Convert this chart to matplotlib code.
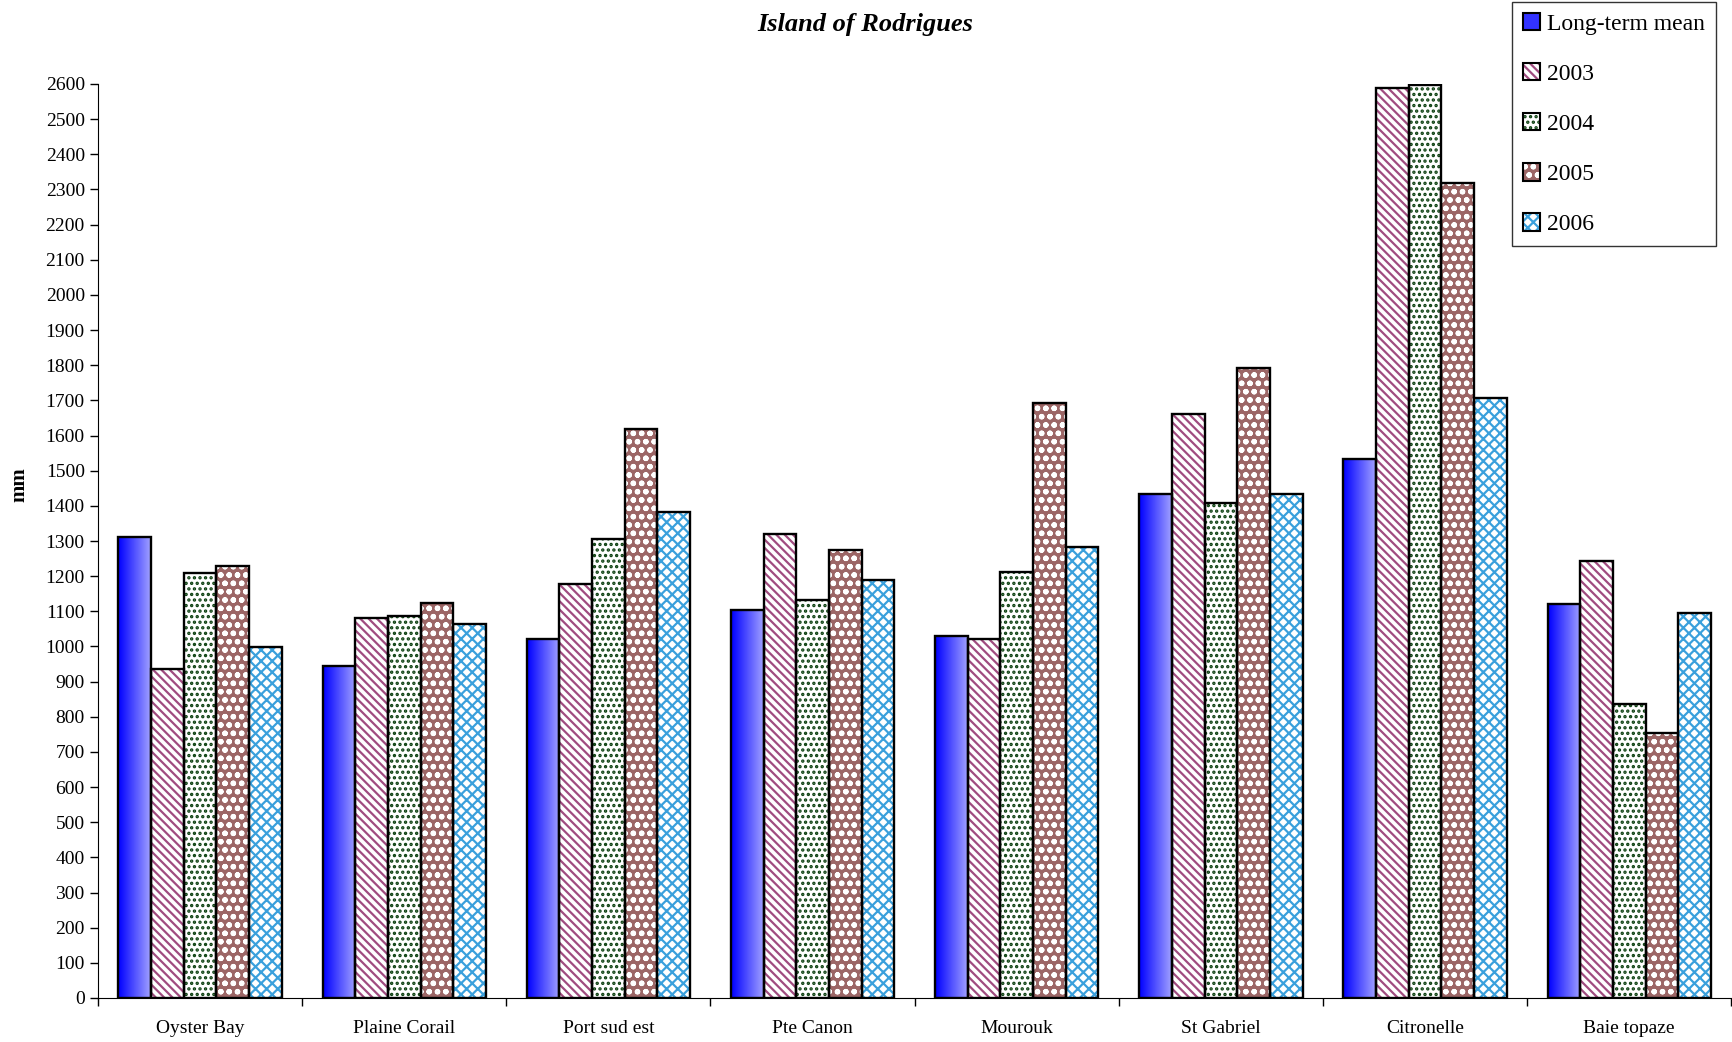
import numpy as np
import matplotlib.pyplot as plt
from matplotlib.patches import Patch
from matplotlib.colors import LinearSegmentedColormap
from matplotlib.legend_handler import HandlerTuple

plt.rcParams['font.family'] = ['Liberation Serif', 'DejaVu Serif']
plt.rcParams['hatch.linewidth'] = 1.6

# Station names and rainfall (mm)
stations = ["Oyster Bay", "Plaine Corail", "Port sud est", "Pte Canon",
            "Mourouk", "St Gabriel", "Citronelle", "Baie topaze"]
long_term = [1312, 943, 1022, 1104, 1030, 1433, 1532, 1120]
y2003 = [935, 1080, 1178, 1320, 1020, 1661, 2588, 1243]
y2004 = [1210, 1088, 1305, 1133, 1213, 1408, 2597, 837]
y2005 = [1230, 1125, 1620, 1275, 1693, 1792, 2318, 755]
y2006 = [998, 1063, 1382, 1188, 1283, 1433, 1707, 1096]
series_names = ["Long-term mean", "2003", "2004", "2005", "2006"]

fig = plt.figure(figsize=(17.33, 10.42), dpi=100)
ax = fig.add_axes([98 / 1733, 1 - 998 / 1042, 1 - 98 / 1733 - 0.001, (998 - 84) / 1042])

x = np.arange(len(stations))
w = 0.16
offsets = (np.arange(5) - 2) * w

# Long-term mean bars with a blue horizontal gradient
grad = np.linspace(0, 1, 64).reshape(1, -1)
blue_cmap = LinearSegmentedColormap.from_list("b", ["#0000ff", "#a0a0ff"])
bars = ax.bar(x + offsets[0], long_term, w, color="none", edgecolor="black", linewidth=1.7, zorder=3)
for b in bars:
    x0, y0 = b.get_x(), b.get_y()
    im = ax.imshow(grad, cmap=blue_cmap, aspect="auto",
                   extent=[x0, x0 + b.get_width(), y0, y0 + b.get_height()], zorder=2)
    im.set_clip_path(b)

# hatched series: (values, face, hatch, hatch colour)
styles = [
    (y2003, "white", "\\\\\\\\", "#a04c80"),
    (y2004, "white", "...", "#0c4010"),
    (y2005, "#9c6666", "oo", "white"),
    (y2006, "white", "xxx", "#3aa0dc"),
]
for i, (vals, face, hatch, hcol) in enumerate(styles):
    ax.bar(x + offsets[i + 1], vals, w, color=face, edgecolor=hcol, hatch=hatch, linewidth=0, zorder=2)
    ax.bar(x + offsets[i + 1], vals, w, fill=False, edgecolor="black", linewidth=1.7, zorder=3)

ax.set_xlim(-0.5, len(stations) - 0.5)
ax.set_ylim(0, 2600)
ax.set_yticks(np.arange(0, 2601, 100))
ax.set_xticks(x)
ax.set_xticklabels(stations, fontsize=14)
ax.set_xticks(np.arange(len(stations) + 1) - 0.5, minor=True)
ax.tick_params(axis="x", which="major", length=0, pad=16)
ax.tick_params(axis="x", which="minor", length=6, width=1)
ax.tick_params(axis="y", labelsize=14, length=6, width=1)
for s in ["top", "right"]:
    ax.spines[s].set_visible(False)

fig.text(19 / 1733, 1 - 485 / 1042, "mm", fontsize=15, fontweight="bold", rotation=90,
         ha="center", va="center")

fig.text(865 / 1733, 1 - 24 / 1042, "Island of Rodrigues", fontsize=19, fontweight="bold",
         fontstyle="italic", ha="center", va="center")

handles = [(Patch(facecolor="#3333ff", edgecolor="black", linewidth=1.5),)]
for vals, face, hatch, hcol in styles:
    handles.append((Patch(facecolor=face, edgecolor=hcol, hatch=hatch, linewidth=0),
                    Patch(fill=False, edgecolor="black", linewidth=1.5)))
leg = fig.legend(handles, series_names, loc="upper right", bbox_to_anchor=(1716 / 1733, 1 - 2 / 1042),
                 fontsize=17, frameon=True, fancybox=False, edgecolor="black", handlelength=0.75,
                 handleheight=0.75, handletextpad=0.3, labelspacing=1.2, borderpad=0.45, borderaxespad=0,
                 handler_map={tuple: HandlerTuple(ndivide=1, pad=0)})
leg.get_frame().set_linewidth(1)

fig.savefig("out.png", dpi=100)
